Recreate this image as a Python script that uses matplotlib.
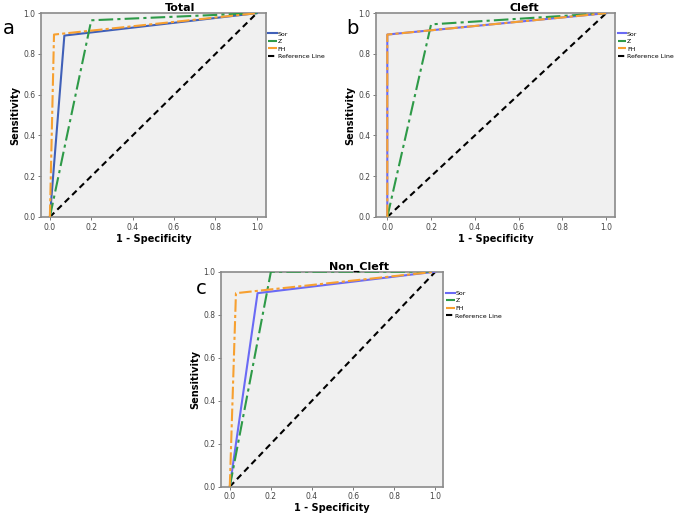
import matplotlib
matplotlib.use("Agg")
import matplotlib.pyplot as plt

# Données (1 - spécificité, sensibilité)
total_sor_x = [0.0, 0.07, 1.0]
total_sor_y = [0.0, 0.89, 1.0]
total_z_x = [0.0, 0.20, 1.0]
total_z_y = [0.0, 0.965, 1.0]
total_fh_x = [0.0, 0.02, 1.0]
total_fh_y = [0.0, 0.895, 1.0]

cleft_sor_x = [0.0, 0.0, 1.0]
cleft_sor_y = [0.0, 0.895, 1.0]
cleft_z_x = [0.0, 0.20, 1.0]
cleft_z_y = [0.0, 0.945, 1.0]
cleft_fh_x = [0.0, 0.0, 1.0]
cleft_fh_y = [0.0, 0.895, 1.0]

noncleft_sor_x = [0.0, 0.135, 1.0]
noncleft_sor_y = [0.0, 0.90, 1.0]
noncleft_z_x = [0.0, 0.20, 1.0]
noncleft_z_y = [0.0, 1.0, 1.0]
noncleft_fh_x = [0.0, 0.03, 1.0]
noncleft_fh_y = [0.0, 0.90, 1.0]

ref_x = [0.0, 1.0]
ref_y = [0.0, 1.0]

ticks = [0.0, 0.2, 0.4, 0.6, 0.8, 1.0]
tick_labels = ["0.0", "0.2", "0.4", "0.6", "0.8", "1.0"]


def panneau(ax, titre, lettre, sor, z, fh, sor_color, xlim, lx, ly):
    ax.set_facecolor("#f0f0f0")
    ax.plot(sor[0], sor[1], color=sor_color, lw=1.5, label="Sor", zorder=3)
    ax.plot(z[0], z[1], color="#2e9a48", lw=1.5, ls=(0, (7, 2, 1.5, 2)), label="Z", zorder=3)
    ax.plot(fh[0], fh[1], color="#f7a030", lw=1.5, ls=(0, (6, 1.5, 1.5, 1.5)), label="FH", zorder=4)
    ax.plot(ref_x, ref_y, color="black", lw=1.5, ls=(0, (3, 2)), label="Reference Line", zorder=2)
    ax.set_xlim(*xlim)
    ax.set_ylim(0, 1.0)
    ax.set_xticks(ticks)
    ax.set_xticklabels(tick_labels)
    ax.set_yticks(ticks)
    ax.set_yticklabels(tick_labels)
    ax.tick_params(labelsize=5.5, length=2, width=0.5, colors="#444444", pad=2)
    for s in ax.spines.values():
        s.set_color("#8a8a8a")
        s.set_linewidth(1.2)
    ax.set_title(titre, fontsize=8, fontweight="bold", pad=1, x=0.62)
    ax.set_xlabel("1 - Specificity", fontsize=7, fontweight="bold", labelpad=1.5)
    ax.set_ylabel("Sensitivity", fontsize=7, fontweight="bold", labelpad=2)
    ax.legend(loc="upper left", bbox_to_anchor=(0.995, 0.93), frameon=False,
              fontsize=4.5, handlelength=1.4, handletextpad=0.1,
              labelspacing=0.35, borderaxespad=0.2)
    fig.text(lx, ly, lettre, fontsize=14, ha="left", va="center")


fig = plt.figure(figsize=(6.75, 5.16), dpi=100)

ax_a = fig.add_axes([0.0607, 0.5795, 0.333, 0.395])
panneau(ax_a, "Total", "a",
        (total_sor_x, total_sor_y), (total_z_x, total_z_y), (total_fh_x, total_fh_y),
        "#4060b8", (-0.043, 1.043), 0.005, 0.945)

ax_b = fig.add_axes([0.5566, 0.5795, 0.3545, 0.395])
panneau(ax_b, "Cleft", "b",
        (cleft_sor_x, cleft_sor_y), (cleft_z_x, cleft_z_y), (cleft_fh_x, cleft_fh_y),
        "#6a6af5", (-0.053, 1.04), 0.513, 0.945)

ax_c = fig.add_axes([0.327, 0.0568, 0.330, 0.4167])
panneau(ax_c, "Non_Cleft", "c",
        (noncleft_sor_x, noncleft_sor_y), (noncleft_z_x, noncleft_z_y), (noncleft_fh_x, noncleft_fh_y),
        "#6a6af5", (-0.044, 1.039), 0.29, 0.44)

fig.savefig("out.png", dpi=100)
